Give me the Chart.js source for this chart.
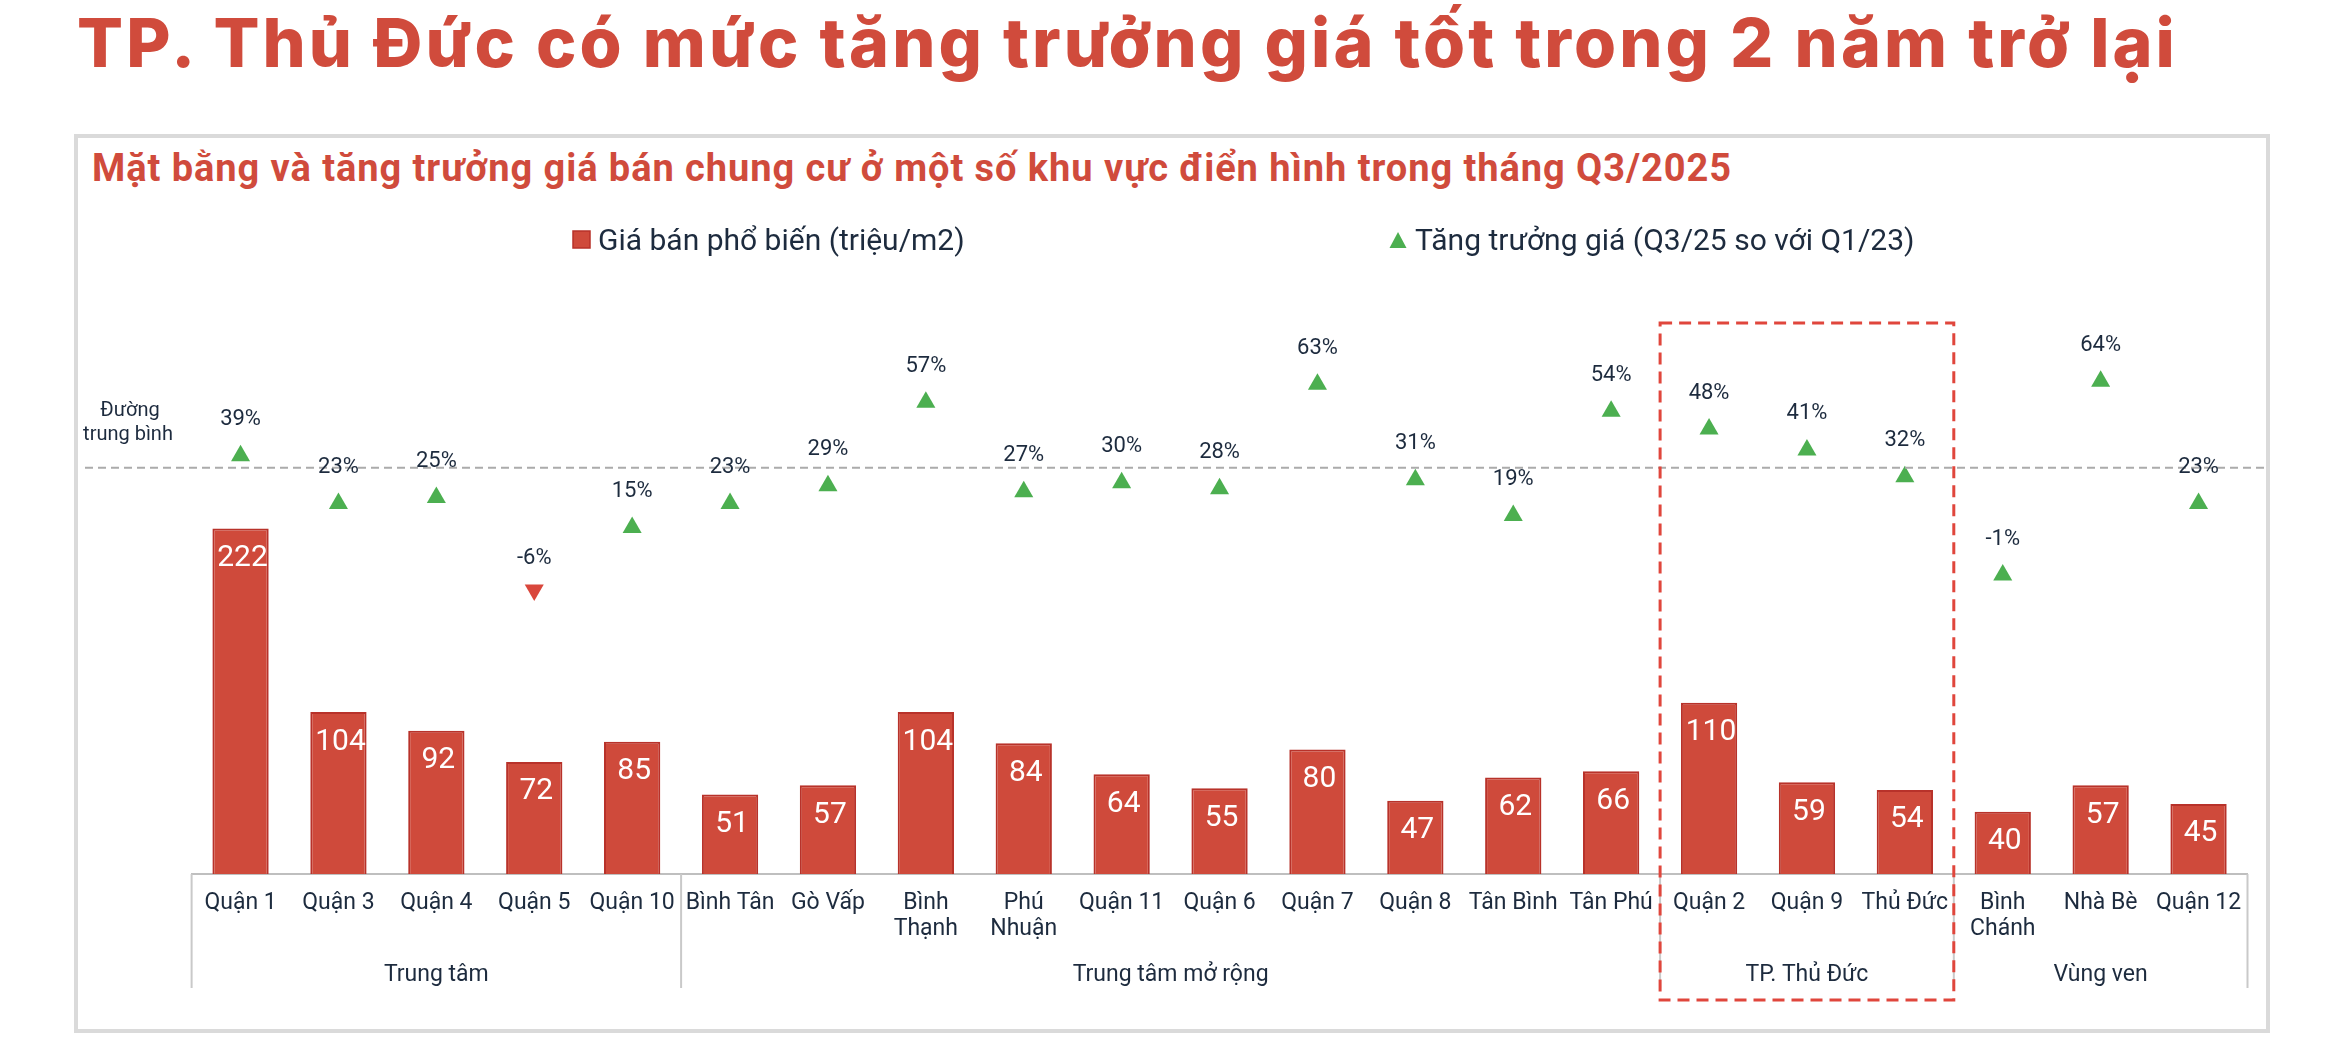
<!DOCTYPE html>
<html lang="vi">
<head>
<meta charset="utf-8">
<title>TP. Thủ Đức có mức tăng trưởng giá tốt trong 2 năm trở lại</title>
<script src="https://cdn.jsdelivr.net/npm/chart.js@4.4.1/dist/chart.umd.min.js"></script>
<style>
  html, body { margin: 0; padding: 0; background: #fff; }
  body { width: 2332px; height: 1058px; position: relative; overflow: hidden; }
  #headline { position: absolute; left: 77px; top: 8px; font-family: Inter, Lato, sans-serif; font-weight: 800;
    font-size: 68px; line-height: 1; color: #d04b3c; white-space: nowrap; }
  #panel { position: absolute; left: 74px; top: 134px; width: 2196px; height: 899px;
    box-sizing: border-box; border: 4px solid #dadada; }
  #subtitle { position: absolute; left: 92px; top: 149px; font-family: Roboto, sans-serif; font-weight: 700;
    font-size: 38px; line-height: 1; color: #d04b3c; white-space: nowrap; }
  #chart { position: absolute; left: 0; top: 0; }
</style>
</head>
<body>
<div id="headline">TP. Thủ Đức có mức tăng trưởng giá tốt trong 2 năm trở lại</div>
<div id="panel"></div>
<div id="subtitle">Mặt bằng và tăng trưởng giá bán chung cư ở một số khu vực điển hình trong tháng Q3/2025</div>
<canvas id="chart" width="2332" height="1058"></canvas>
<script>
// districts, grouped left to right
const categories = ['Quận 1', 'Quận 3', 'Quận 4', 'Quận 5', 'Quận 10',
  'Bình Tân', 'Gò Vấp', ['Bình', 'Thạnh'], ['Phú', 'Nhuận'], 'Quận 11', 'Quận 6', 'Quận 7', 'Quận 8', 'Tân Bình', 'Tân Phú',
  'Quận 2', 'Quận 9', 'Thủ Đức',
  ['Bình', 'Chánh'], 'Nhà Bè', 'Quận 12'];
const prices = [222, 104, 92, 72, 85, 51, 57, 104, 84, 64, 55, 80, 47, 62, 66, 110, 59, 54, 40, 57, 45];
const growth = [39, 23, 25, -6, 15, 23, 29, 57, 27, 30, 28, 63, 31, 19, 54, 48, 41, 32, -1, 64, 23];
const downMarks = ['Quận 5'];
const groupNames = ['Trung tâm', 'Trung tâm mở rộng', 'TP. Thủ Đức', 'Vùng ven'];
const groupSizes = [5, 10, 3, 3];
const highlightGroup = 'TP. Thủ Đức';
const avgGrowth = 35;
const avgLabel = ['Đường', 'trung bình'];
const legendLabels = ['Giá bán phổ biến (triệu/m2)', 'Tăng trưởng giá (Q3/25 so với Q1/23)'];

const priceRange = [0, 368.7];
const growthRange = [-101.3, 91.3];

const RED = '#cf4a3b', RED_EDGE = '#b8322a', GREEN = '#4caf50', INK = '#1d2b3e';
const FONT = 'Roboto';

// stretch headline / subtitle to the widths they take in the picture
function fitWidth(id, target) {
  const el = document.getElementById(id);
  const w = el.getBoundingClientRect().width;
  el.style.letterSpacing = ((target - w) / el.textContent.length) + 'px';
}
fitWidth('headline', 2101);
fitWidth('subtitle', 1640);

const isDown = c => downMarks.includes(categories[c.dataIndex]);

const overlay = {
  id: 'overlay',
  afterDraw(chart) {
    const { ctx, chartArea, scales } = chart;
    const x = scales.x, y2 = scales.y2;
    const step = x.getPixelForValue(1) - x.getPixelForValue(0);
    ctx.save();

    // average line
    const ya = y2.getPixelForValue(avgGrowth);
    ctx.strokeStyle = '#ababab';
    ctx.lineWidth = 2;
    ctx.setLineDash([8, 5]);
    ctx.beginPath(); ctx.moveTo(85, ya); ctx.lineTo(2266, ya); ctx.stroke();
    ctx.setLineDash([]);
    ctx.fillStyle = INK;
    ctx.font = '20px ' + FONT;
    ctx.textAlign = 'center';
    ctx.textBaseline = 'alphabetic';
    ctx.fillText(avgLabel[0], 130, 416);
    ctx.fillText(avgLabel[1], 128, 440);

    // group separators and names
    let start = 0;
    const edges = [];
    ctx.strokeStyle = '#c9c9c9';
    ctx.lineWidth = 2;
    groupSizes.forEach((n, i) => {
      const x0 = x.getPixelForValue(start) - step / 2;
      const x1 = x.getPixelForValue(start + n - 1) + step / 2;
      edges.push([x0, x1]);
      ctx.beginPath(); ctx.moveTo(x0, chartArea.bottom); ctx.lineTo(x0, 988); ctx.stroke();
      if (i === groupSizes.length - 1) {
        ctx.beginPath(); ctx.moveTo(x1, chartArea.bottom); ctx.lineTo(x1, 988); ctx.stroke();
      }
      ctx.fillStyle = INK;
      ctx.font = '23px ' + FONT;
      ctx.fillText(groupNames[i], (x0 + x1) / 2, 981);
      start += n;
    });

    // highlighted group box
    const hi = edges[groupNames.indexOf(highlightGroup)];
    ctx.strokeStyle = '#e0463c';
    ctx.lineWidth = 3;
    ctx.setLineDash([12, 7]);
    ctx.strokeRect(hi[0], 323, hi[1] - hi[0], 677);
    ctx.setLineDash([]);

    // value labels
    ctx.textBaseline = 'middle';
    chart.getDatasetMeta(1).data.forEach((el, i) => {
      ctx.fillStyle = '#fff';
      ctx.font = '30px ' + FONT;
      ctx.fillText(String(prices[i]), el.x + 2, el.y + 30);
    });
    chart.getDatasetMeta(0).data.forEach((el, i) => {
      ctx.fillStyle = INK;
      ctx.font = '22px ' + FONT;
      const off = downMarks.includes(categories[i]) ? 31 : 36;
      ctx.fillText(growth[i] + '%', el.x, el.y - off);
    });

    // legend
    ctx.textAlign = 'left';
    ctx.textBaseline = 'alphabetic';
    ctx.font = '30px ' + FONT;
    ctx.fillStyle = RED;
    ctx.fillRect(573, 231, 17, 17);
    ctx.strokeStyle = RED_EDGE;
    ctx.lineWidth = 1.5;
    ctx.strokeRect(573, 231, 17, 17);
    ctx.fillStyle = INK;
    ctx.fillText(legendLabels[0], 598, 250);
    ctx.fillStyle = GREEN;
    ctx.beginPath();
    ctx.moveTo(1398, 232); ctx.lineTo(1406.5, 248); ctx.lineTo(1389.5, 248); ctx.closePath(); ctx.fill();
    ctx.fillStyle = INK;
    ctx.fillText(legendLabels[1], 1415, 250);

    ctx.restore();
  }
};

new Chart(document.getElementById('chart'), {
  type: 'bar',
  data: {
    labels: categories,
    datasets: [
      {
        type: 'line',
        label: legendLabels[1],
        data: growth,
        yAxisID: 'y2',
        showLine: false,
        pointStyle: 'triangle',
        pointRadius: 11,
        pointHoverRadius: 11,
        pointBorderWidth: 0,
        pointRotation: c => isDown(c) ? 180 : 0,
        pointBackgroundColor: c => isDown(c) ? '#d9473c' : GREEN,
        pointBorderColor: c => isDown(c) ? '#d9473c' : GREEN
      },
      {
        type: 'bar',
        label: legendLabels[0],
        data: prices,
        yAxisID: 'y',
        backgroundColor: RED,
        borderColor: RED_EDGE,
        borderWidth: 2,
        categoryPercentage: 1,
        barPercentage: 0.575
      }
    ]
  },
  options: {
    responsive: false,
    animation: false,
    devicePixelRatio: 1,
    layout: { padding: { left: 191.6, right: 84.5, top: 300, bottom: 0 } },
    plugins: {
      legend: { display: false },
      tooltip: { enabled: false },
      title: { display: false }
    },
    scales: {
      x: {
        offset: true,
        grid: { display: false, drawTicks: false },
        border: { display: true, color: '#bfbfbf', width: 2 },
        ticks: {
          color: INK,
          font: { family: FONT, size: 23, lineHeight: 1.13 },
          padding: 16,
          maxRotation: 0,
          autoSkip: false
        },
        afterFit: s => { s.height = 1058 - 874; }
      },
      y: { display: false, min: priceRange[0], max: priceRange[1] },
      y2: { display: false, min: growthRange[0], max: growthRange[1] }
    }
  },
  plugins: [overlay]
});
</script>
</body>
</html>
